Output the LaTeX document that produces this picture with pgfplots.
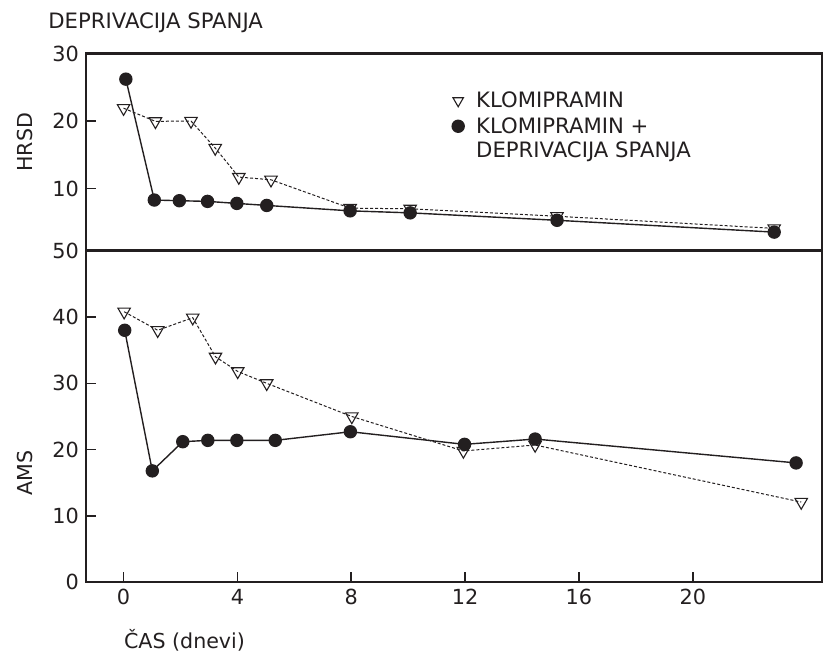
\documentclass[border=0pt]{standalone}
\usepackage{fontspec}
\setmainfont{DejaVu Sans}
\usepackage{pgfplots}
\pgfplotsset{compat=1.18}
\definecolor{ink}{HTML}{231F20}
\begin{document}
\begin{tikzpicture}
\path[use as bounding box] (-43pt,-34.35pt) rectangle (369pt,291.15pt);
\pgfplotsset{
  common/.style={
    scale only axis, width=368pt, xmin=-1.32, xmax=24.54,
    axis line style={line width=1.2pt, ink},
    tick align=inside, ytick pos=left, xtick pos=bottom,
    major tick length=5pt,
    tick style={line width=0.8pt, ink},
    ticklabel style={font=\fontsize{10.4}{12.5}\selectfont, text=ink},
    /pgf/number format/assume math mode=true,
    label style={font=\fontsize{10.3}{12.5}\selectfont, text=ink},
    clip=false,
  },
  kl/.style={ink, line width=0.5pt, dash pattern=on 1.5pt off 1pt, mark=triangle, mark size=3.6pt, mark options={solid, rotate=180, fill=white, line width=0.55pt}},
  kd/.style={ink, line width=0.7pt, mark=*, mark size=3pt, mark options={solid, fill=ink}},
}
% bottom panel (AMS)
\begin{axis}[common, at={(0,0)}, anchor=south west, height=165.8pt,
  ymin=0, ymax=50, ytick={0,10,...,50}, xtick={0,4,...,20},
  xlabel={ČAS (dnevi)},
  xlabel style={at={(axis description cs:0,0)}, anchor=base west, xshift=15.5pt, yshift=-33.3pt},
  ylabel={AMS},
  ylabel style={at={(axis description cs:-0.0829,0.33)}, anchor=center},
]
\addplot[kl] coordinates {(0.02,40.8) (1.2,38) (2.43,39.9) (3.23,34) (4.01,31.8) (5.03,30) (8.02,25) (11.94,19.8) (14.46,20.7) (23.81,12.1)};
\addplot[kd] coordinates {(0.04,38) (1.01,16.8) (2.08,21.2) (2.96,21.4) (3.98,21.4) (5.33,21.4) (7.97,22.7) (11.98,20.8) (14.46,21.6) (23.63,18)};
\end{axis}
% top panel (HRSD)
\begin{axis}[common, at={(0,165.8pt)}, anchor=south west, height=98.6pt,
  ymin=0.8, ymax=30, ytick={10,20,30}, xtick=\empty,
  ylabel={HRSD},
  ylabel style={at={(axis description cs:-0.0829,0.549)}, anchor=center},
  title={DEPRIVACIJA SPANJA},
  title style={at={(axis description cs:0,1)}, anchor=base west, xshift=-19pt, yshift=6.25pt, font=\fontsize{10.6}{12.5}\selectfont, text=ink, inner sep=0pt},
  legend style={at={(axis description cs:0.497,0.83)}, anchor=north west, draw=none, fill=none,
    font=\fontsize{10.6}{12.3}\selectfont, text=ink, row sep=-1pt, column sep=4pt, inner sep=0pt},
  legend cell align=left,
]
\addlegendimage{kl, only marks, mark size=3pt}
\addlegendentry{KLOMIPRAMIN}
\addlegendimage{kd, only marks}
\addlegendentry{\begin{tabular}[t]{@{}l@{}}KLOMIPRAMIN +\\DEPRIVACIJA SPANJA\end{tabular}}
\addplot[kl, forget plot] coordinates {(0,21.9) (1.12,19.95) (2.37,20) (3.22,16) (4.05,11.7) (5.18,11.3) (7.96,7.1) (10.07,7.0) (15.23,5.9) (22.86,4.1)};
\addplot[kd, forget plot] coordinates {(0.08,26.2) (1.08,8.3) (1.96,8.2) (2.95,8.1) (3.98,7.8) (5.03,7.5) (7.96,6.7) (10.07,6.4) (15.23,5.3) (22.86,3.55)};
\end{axis}
\end{tikzpicture}
\end{document}
